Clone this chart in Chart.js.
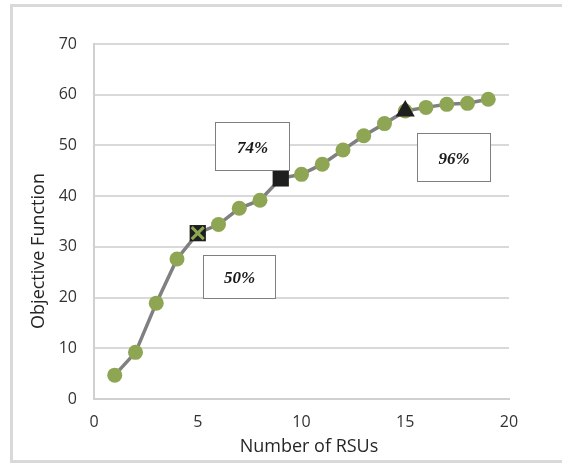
<!DOCTYPE html>
<html>
<head>
<meta charset="utf-8">
<script src="https://cdn.jsdelivr.net/npm/chart.js@4.4.1/dist/chart.umd.min.js"></script>
<style>
  html, body { margin: 0; padding: 0; background: #fff; }
  #wrap { position: relative; width: 562px; height: 464px; overflow: hidden; }
  #frame { position: absolute; left: 10px; top: 4px; width: 600px; height: 459px; border: 3px solid #d9d9d9; box-sizing: border-box; }
  #objChart { position: absolute; left: 0; top: 0; }
</style>
</head>
<body>
<div id="wrap">
  <div id="frame"></div>
  <canvas id="objChart" width="562" height="464"></canvas>
</div>
<script>
// number of RSUs and the objective value
const rsus = [1, 2, 3, 4, 5, 6, 7, 8, 9, 10, 11, 12, 13, 14, 15, 16, 17, 18, 19];
const objective = [4.7, 9.2, 18.9, 27.6, 32.7, 34.4, 37.6, 39.2, 43.5, 44.3, 46.3, 49.1, 51.9, 54.3, 56.8, 57.5, 58.1, 58.3, 59.1];

// highlighted points
const markerRsus = [5, 9, 15];
const markerStyles = ['rect', 'rect', 'triangle'];
const crossRsus = [5];

// percentage call-outs
const calloutText = ['74%', '96%', '50%'];

const xTicks = [0, 5, 10, 15, 20];
const yTicks = [0, 10, 20, 30, 40, 50, 60, 70];

const green = '#8ea654';
const lineGray = '#808080';

// box extents for the call-outs, in axis units: [x0, x1, yTop, yBottom]
const calloutBoxes = [
  [5.83, 9.4, 54.6, 45.1],
  [15.57, 19.08, 52.4, 43.0],
  [5.23, 8.73, 28.4, 19.9]
];

const valueAt = x => objective[rsus.indexOf(x)];

const calloutPlugin = {
  id: 'callouts',
  afterDatasetsDraw(chart) {
    const ctx = chart.ctx;
    const xs = chart.scales.x, ys = chart.scales.y;
    ctx.save();
    calloutBoxes.forEach((b, i) => {
      const l = Math.round(xs.getPixelForValue(b[0])) + 0.5;
      const r = Math.round(xs.getPixelForValue(b[1])) + 0.5;
      const t = Math.round(ys.getPixelForValue(b[2])) + 0.5;
      const btm = Math.round(ys.getPixelForValue(b[3])) + 0.5;
      ctx.fillStyle = '#fff';
      ctx.fillRect(l, t, r - l, btm - t);
      ctx.strokeStyle = '#7f7f7f';
      ctx.lineWidth = 1;
      ctx.strokeRect(l, t, r - l, btm - t);
      ctx.fillStyle = '#1a1a1a';
      ctx.font = 'italic bold 17px "Liberation Serif", "DejaVu Serif", serif';
      ctx.textAlign = 'center';
      ctx.textBaseline = 'middle';
      ctx.fillText(calloutText[i], (l + r) / 2, (t + btm) / 2 + 2);
    });
    // axis titles sit a little off-centre in the original
    ctx.fillStyle = '#262626';
    ctx.font = '18px "Open Sans", "Noto Sans", sans-serif';
    ctx.textAlign = 'center';
    ctx.textBaseline = 'middle';
    ctx.fillText('Number of RSUs', 309, 447);
    ctx.translate(39, 251);
    ctx.rotate(-Math.PI / 2);
    ctx.fillText('Objective Function', 0, 0);
    ctx.restore();
  }
};

const tickFont = { family: '"Open Sans", "Noto Sans", sans-serif', size: 16 };

new Chart(document.getElementById('objChart'), {
  type: 'line',
  data: {
    datasets: [
      {
        data: crossRsus.map(x => ({ x: x, y: valueAt(x) })),
        showLine: false,
        pointStyle: 'crossRot',
        pointRadius: 8.5,
        pointBorderWidth: 3,
        pointBorderColor: green,
        order: 0
      },
      {
        data: markerRsus.map(x => ({ x: x, y: valueAt(x) })),
        showLine: false,
        pointStyle: markerStyles,
        pointRadius: [11.5, 11.5, 11],
        pointBackgroundColor: '#1e1e1e',
        pointBorderColor: '#1e1e1e',
        pointBorderWidth: 0,
        order: 1
      },
      {
        data: rsus.map((x, i) => ({ x: x, y: objective[i] })),
        borderColor: lineGray,
        borderWidth: 3.5,
        tension: 0,
        pointStyle: 'circle',
        pointRadius: 7.5,
        pointBackgroundColor: green,
        pointBorderWidth: 0,
        order: 2
      }
    ]
  },
  options: {
    responsive: false,
    devicePixelRatio: 1,
    animation: false,
    events: [],
    layout: { padding: { top: 44, right: 53, left: 0, bottom: 0 } },
    plugins: { legend: { display: false }, tooltip: { enabled: false } },
    scales: {
      x: {
        type: 'linear',
        min: 0, max: 20,
        afterFit: s => { s.height = 65; },
        afterBuildTicks: s => { s.ticks = xTicks.map(v => ({ value: v })); },
        grid: { display: false, tickLength: 0 },
        border: { color: '#d0d0d0', width: 2 },
        ticks: { color: '#333', font: tickFont, padding: 14, maxRotation: 0 },
        title: { display: false }
      },
      y: {
        min: 0, max: 70,
        afterFit: s => { s.width = 94; },
        afterBuildTicks: s => { s.ticks = yTicks.map(v => ({ value: v })); },
        grid: { color: '#d9d9d9', lineWidth: 2, drawTicks: false, tickLength: 0 },
        border: { color: '#d0d0d0', width: 2 },
        ticks: { color: '#333', font: tickFont, padding: 17 },
        title: { display: false }
      }
    }
  },
  plugins: [calloutPlugin]
});
</script>
</body>
</html>
